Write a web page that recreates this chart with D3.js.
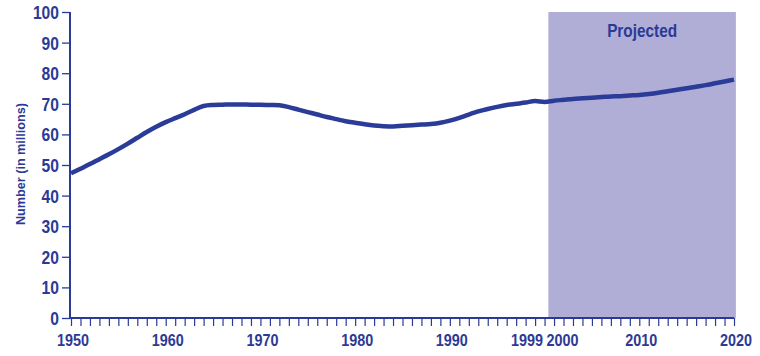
<!DOCTYPE html>
<html><head><meta charset="utf-8">
<script src="https://cdn.jsdelivr.net/npm/d3@7"></script>
<style>
body{margin:0;background:#fff;}
text{font-family:"Liberation Sans",Arial,sans-serif;font-weight:bold;fill:#2b3a96;}
</style></head>
<body><svg id="c" width="760" height="356"></svg>
<script>
const years = d3.range(1950, 2021);
const values = [
 47.3,48.8,50.3,51.9,53.5,55.2,57.0,58.9,60.8,62.5,
 64.0,65.3,66.6,68.0,69.3,69.6,69.7,69.8,69.8,69.7,
 69.7,69.6,69.5,68.9,68.1,67.3,66.5,65.7,65.0,64.3,
 63.8,63.3,62.9,62.7,62.6,62.8,63.0,63.2,63.4,63.8,
 64.5,65.4,66.5,67.5,68.3,69.0,69.6,70.0,70.4,70.9,
 70.6,71.0,71.3,71.6,71.8,72.0,72.2,72.4,72.5,72.7,
 72.9,73.2,73.6,74.1,74.6,75.1,75.6,76.1,76.7,77.3,77.9];
const yTicks = [0,10,20,30,40,50,60,70,80,90,100];
const xLabels = [1950,1960,1970,1980,1990,1999,2000,2010,2020];
const projectedRange = [2000.4, 2020.2];
const projectedLabel = "Projected";
const yTitle = "Number (in millions)";

const svg = d3.select("#c");
const color = "#2b3a96";
const x = d3.scaleLinear().domain([1950, 2020]).range([71, 734]);
const y = d3.scaleLinear().domain([0, 100]).range([318, 12]);

function condense(sel, perChar) {
  sel.each(function() {
    const t = d3.select(this);
    const n = t.text().length;
    t.attr("textLength", n * perChar).attr("lengthAdjust", "spacingAndGlyphs");
  });
}

// projected shading
svg.append("rect")
  .attr("x", x(projectedRange[0])).attr("y", y(100))
  .attr("width", x(projectedRange[1]) - x(projectedRange[0]))
  .attr("height", y(0) - y(100))
  .attr("fill", "#b0aed6");
svg.append("text")
  .attr("x", x((projectedRange[0] + projectedRange[1]) / 2))
  .attr("y", 37).attr("text-anchor", "middle")
  .style("font-size", "18px").text(projectedLabel)
  .attr("textLength", 70).attr("lengthAdjust", "spacingAndGlyphs");

// y axis
const yAxis = d3.axisLeft(y).tickValues(yTicks).tickSize(8).tickPadding(3).tickFormat(d3.format("d"));
const gy = svg.append("g").attr("transform", `translate(${x(1950) - 1},0)`).call(yAxis);
gy.select(".domain").attr("stroke", color).attr("stroke-width", 2).attr("d", `M0,${y(100)}V${y(0)}`);
gy.selectAll(".tick line").attr("stroke", color).attr("stroke-width", 1.3);
gy.selectAll(".tick text").style("font-size", "18px").attr("fill", color).attr("dy", "0.36em")
  .call(condense, 8.7);

// x axis minor ticks
const xAxis = d3.axisBottom(x).tickValues(years).tickSize(8).tickFormat("");
const gx = svg.append("g").attr("transform", `translate(0,${y(0)})`).call(xAxis);
gx.select(".domain").attr("stroke", color).attr("stroke-width", 2).attr("d", `M${x(1950) - 1},0H${x(2020)}`);
gx.selectAll(".tick line").attr("stroke", color).attr("stroke-width", 1.2);

const labelShift = {1999: -8, 2000: 18};
svg.append("g").selectAll("text").data(xLabels).join("text")
  .attr("x", d => x(d) + (labelShift[d] || 2))
  .attr("y", 346).attr("text-anchor", "middle")
  .style("font-size", "17px").text(d => d)
  .call(condense, 8);

// y title
svg.append("text")
  .attr("transform", "translate(25,164) rotate(-90)")
  .attr("text-anchor", "middle").style("font-size", "13.5px").text(yTitle)
  .attr("textLength", 122).attr("lengthAdjust", "spacingAndGlyphs");

// line
const line = d3.line().x((d, i) => x(years[i])).y(d => y(d)).curve(d3.curveMonotoneX);
svg.append("path").datum(values)
  .attr("d", line).attr("fill", "none")
  .attr("stroke", "#2a3b98").attr("stroke-width", 4.5).attr("stroke-linejoin", "round");
</script></body></html>
